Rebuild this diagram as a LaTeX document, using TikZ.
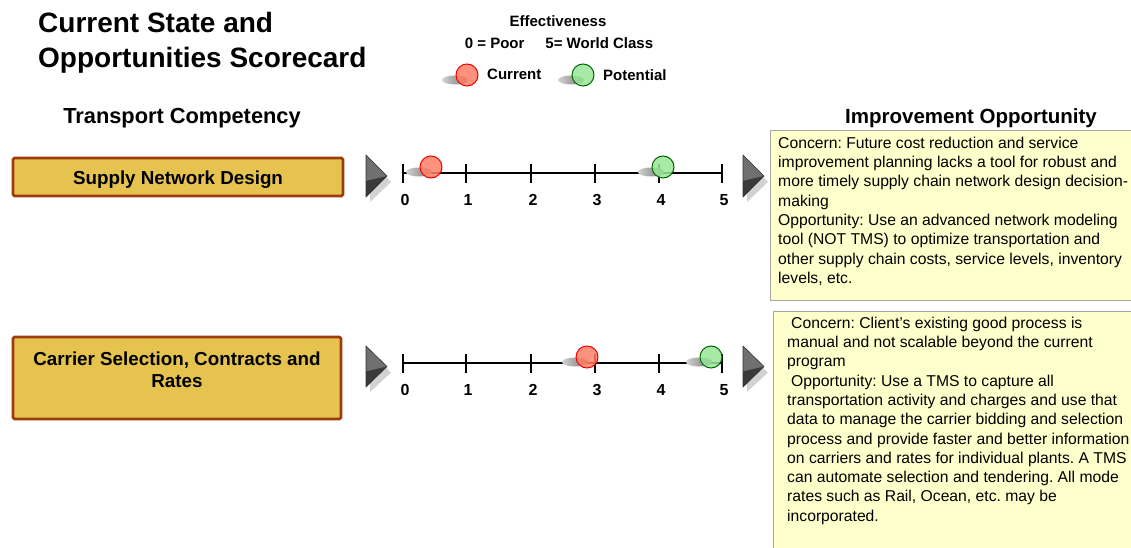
\documentclass[tikz,border=0pt]{standalone}
\usepackage{fontspec}
\setmainfont{Liberation Sans}
\frenchspacing
\definecolor{compfill}{HTML}{E6C24F}
\definecolor{compborder}{HTML}{9E3B0B}
\definecolor{notefill}{HTML}{FFFFCC}
\definecolor{noteborder}{HTML}{A6A6A6}
\definecolor{curfill}{HTML}{FF8066}
\definecolor{curdraw}{HTML}{F00000}
\definecolor{potfill}{HTML}{99E699}
\definecolor{potdraw}{HTML}{006600}
\definecolor{triA}{HTML}{707070}
\definecolor{triB}{HTML}{3A3A3A}
\newcommand\pointer[4]{% name, left x, top y, bottom y
  \coordinate (#1) at (#2+10,{(#3+#4)/2});
  \fill[gray!35] (#2+4,#3+6) -- (#2+25,{(#3+#4)/2+6}) -- (#2+4,#4+5) -- cycle;
  \fill[triA] (#2,#3) -- (#2+21,{(#3+#4)/2}) -- (#2,#4) -- cycle;
  \fill[triB] (#2,{(#3+#4)/2+5}) -- (#2+21,{(#3+#4)/2}) -- (#2,#4) -- cycle;
  \draw[black!80, line width=0.6pt, line join=round] (#2,#3) -- (#2+21,{(#3+#4)/2}) -- (#2,#4) -- cycle;
}
\newcommand\scalebar[2]{% name prefix, y
  \draw[scaleline] (403,#2) -- (722,#2);
  \foreach \i/\xx in {0/403,1/466,2/531,3/595,4/659,5/722}{
    \draw[scaleline] (\xx,#2-9) -- (\xx,#2+10);
    \node[digit] (#1-\i) at (\xx+2,#2+32) {\i};
  }
}
\newcommand\marker[4]{% x, y, style, name
  \shade[left color=gray!35, right color=black!55] (#1-12,#2+5) ellipse [x radius=13, y radius=4.5];
  \node[#3] (#4) at (#1,#2) {};
}
\begin{document}
\begin{tikzpicture}[x=1pt,y=-1pt,
  comp/.style={draw=compborder, fill=compfill, line width=2.8pt, rounded corners=1.5pt, inner sep=0},
  comptext/.style={font=\fontsize{18.8}{22}\selectfont\bfseries, inner sep=0, align=center},
  note/.style={draw=noteborder, fill=notefill, line width=1.3pt, inner sep=0, anchor=north west},
  notetext/.style={font=\fontsize{15.7}{19.3}\selectfont, inner sep=0, align=left, anchor=north west},
  heading/.style={font=\fontsize{21.8}{26}\selectfont\bfseries, inner sep=0, anchor=base},
  legtext/.style={font=\fontsize{15}{18}\selectfont\bfseries, inner sep=0},
  scaleline/.style={line width=1.6pt, black},
  digit/.style={font=\fontsize{16}{18}\selectfont\bfseries, inner sep=0, anchor=base},
  cur/.style={circle, minimum size=22pt, inner sep=0, draw=curdraw, fill=curfill, fill opacity=0.85, line width=1pt},
  pot/.style={circle, minimum size=22pt, inner sep=0, draw=potdraw, fill=potfill, fill opacity=0.85, line width=1pt}]
\useasboundingbox (0,0) rectangle (1131,548);
\fill[white] (0,0) rectangle (1131,548);

% title
\node[anchor=north west, inner sep=0, align=left, font=\fontsize{28}{35}\selectfont\bfseries] (title) at (38,7)
  {\rule{0pt}{25pt}Current State and\\Opportunities Scorecard};

% effectiveness legend
\node[legtext, anchor=base] (eff) at (558,27) {Effectiveness};
\node[legtext, anchor=base] (range) at (559,48.3) {0 = Poor\hspace{21pt}5= World Class};
\marker{467}{75}{cur}{legcur}
\node[legtext, anchor=base west] (curlab) at (487,80) {Current};
\marker{583}{75}{pot}{legpot}
\node[legtext, anchor=base west] (potlab) at (603,80.5) {Potential};

% headings
\node[heading] (hcomp) at (182,123.5) {Transport Competency};
\node[heading, font=\fontsize{20.5}{24}\selectfont\bfseries] (himp) at (971,123.5) {Improvement Opportunity};

% competency boxes
\node[comp, minimum width=330pt, minimum height=38pt] (snd) at (178,177) {};
\node[comptext, anchor=base] (sndtext) at (178,185) {Supply Network Design};
\node[comp, minimum width=328pt, minimum height=82pt] (csr) at (177,378) {};
\node[comptext, anchor=north] (csrtext) at (177,347) {\rule{0pt}{18pt}Carrier Selection, Contracts and\\Rates};

% pointers
\pointer{p1l}{366}{155}{197}
\pointer{p1r}{743}{155}{197}
\pointer{p2l}{366}{346}{387}
\pointer{p2r}{743}{346}{387}

% scales
\scalebar{s1}{173}
\marker{431}{167}{cur}{s1cur}
\marker{663}{167}{pot}{s1pot}
\scalebar{s2}{363}
\marker{587}{357}{cur}{s2cur}
\marker{711}{357}{pot}{s2pot}

% notes
\node[note, minimum width=375pt, minimum height=170pt] (noteA) at (770,130) {};
\node[notetext] (noteAtext) at (778,134) {\rule{0pt}{14pt}Concern: Future cost reduction and service\\
improvement planning lacks a tool for robust and\\
more timely supply chain network design decision-\\
making\\
Opportunity: Use an advanced network modeling\\
tool (NOT TMS) to optimize transportation and\\
other supply chain costs, service levels, inventory\\
levels, etc.};

\node[note, minimum width=375pt, minimum height=260pt] (noteB) at (773,311) {};
\node[notetext] (noteBtext) at (787,314) {\rule{0pt}{14pt}\hspace*{4pt}Concern: Client’s existing good process is\\
manual and not scalable beyond the current\\
program\\
\hspace*{4pt}Opportunity: Use a TMS to capture all\\
transportation activity and charges and use that\\
data to manage the carrier bidding and selection\\
process and provide faster and better information\\
on carriers and rates for individual plants. A TMS\\
can automate selection and tendering. All mode\\
rates such as Rail, Ocean, etc. may be\\
incorporated.};
\end{tikzpicture}
\end{document}
